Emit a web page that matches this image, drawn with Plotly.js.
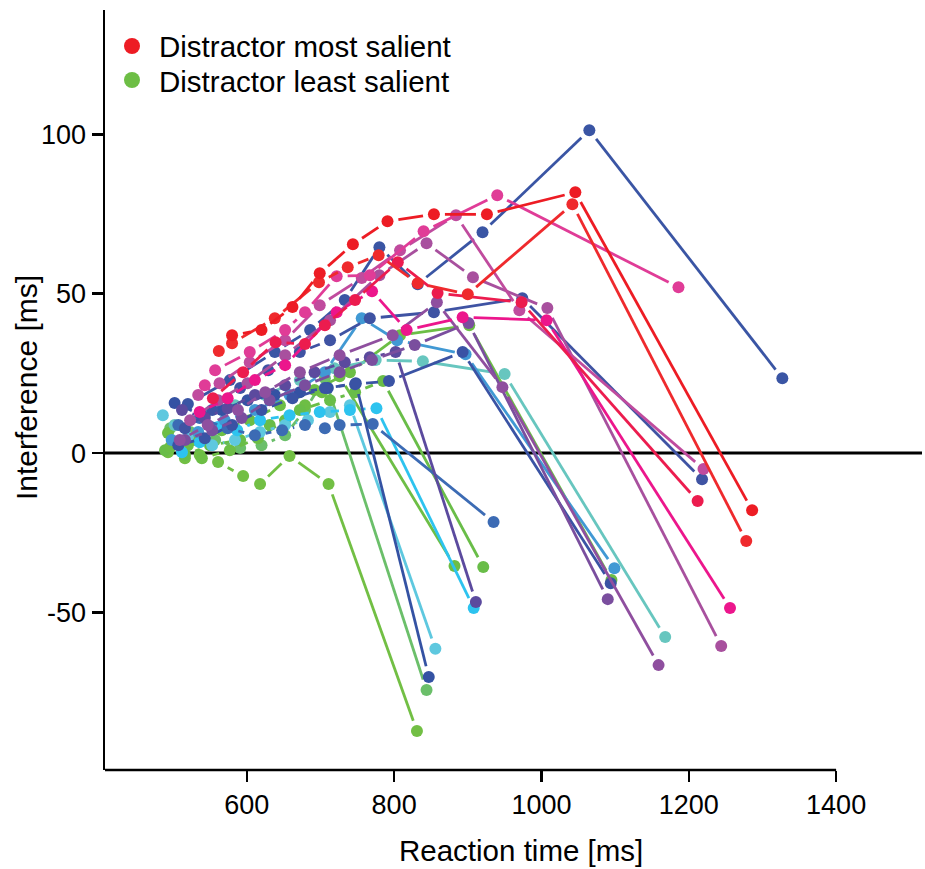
<!DOCTYPE html>
<html><head><meta charset="utf-8">
<script src="https://cdn.plot.ly/plotly-3.0.1.min.js"></script>
<style>html,body{margin:0;padding:0;background:#fff}</style>
</head><body><div id="chart" style="width:925px;height:869px"></div>
<script>
// ---------- DATA ----------
// Reaction time [ms] (x) and Interference [ms] (y) per participant, drawn order: least -> most salient
const rt01 = [493,516,536,561,595,618,658,711,831];
const if01 = [0.3,-1.6,-0.6,-2.8,-7.2,-9.7,-0.9,-9.7,-87.2];
const rt02 = [496,523,557,591,620,652,679,706,844];
const if02 = [7.8,6.6,4.1,1.6,2.5,5.6,13.5,23.5,-74.3];
const rt03 = [493,520,539,577,615,652,679,702,726,882];
const if03 = [6.3,2.5,-1.6,0.9,4.7,10.3,15.0,19.1,24.1,-35.4];
const rt04 = [489,516,550,591,631,672,713,747,785,921];
const if04 = [0.9,-0.6,2.5,4.1,8.8,13.5,16.6,19.1,22.6,-35.7];
const rt05 = [496,530,566,604,645,692,740,808,902,1095];
const if05 = [1.9,4.1,7.2,10.3,15.0,19.8,25.4,37.0,40.1,-39.8];
const rt06 = [502,543,584,625,672,719,775,839,950,1168];
const if06 = [8.8,11.9,15.0,18.2,22.9,26.6,29.2,28.8,24.8,-57.7];
const rt07 = [486,520,553,584,618,652,683,713,740,856];
const if07 = [11.9,5.0,2.5,4.1,6.6,8.8,10.3,12.9,15.0,-61.4];
const rt08 = [512,536,561,587,618,658,699,740,776,908];
const if08 = [0.3,3.4,8.2,7.2,10.3,11.9,12.9,13.5,14.1,-48.6];
const rt09 = [498,534,570,611,658,706,756,804,897,1099];
const if09 = [4.1,6.6,10.3,13.5,18.2,25.4,42.3,35.4,31.0,-36.1];
const rt10 = [507,536,574,611,648,679,706,726,771,935];
const if10 = [8.8,11.0,7.8,5.6,7.2,8.8,7.8,8.8,9.1,-21.6];
const rt11 = [502,539,566,601,638,672,710,748,847];
const if11 = [15.7,11.9,13.5,16.6,18.2,19.1,20.4,21.9,-70.2];
const rt12 = [507,543,580,620,662,706,747,793,893,1094];
const if12 = [2.5,4.7,8.8,13.5,17.2,20.4,21.6,22.6,31.7,-40.8];
const rt13 = [516,553,591,629,672,713,767,854,974,1218];
const if13 = [7.8,13.5,20.4,26.0,31.7,35.4,42.3,44.2,48.6,-8.2];
const rt14 = [520,577,638,686,733,780,832,920,1065,1327];
const if14 = [15.4,22.9,31.7,38.6,48.0,64.6,53.0,69.3,101.3,23.5];
const rt15 = [512,543,574,611,652,692,733,767,802,911];
const if15 = [13.5,11.0,14.1,18.2,21.3,25.4,28.5,30.1,31.7,-46.7];
const rt16 = [516,553,593,631,679,726,770,828,901,1090];
const if16 = [4.1,7.2,11.0,16.6,21.3,25.4,29.2,33.9,40.8,-45.8];
const rt17 = [509,547,588,625,672,726,798,858,947,1159];
const if17 = [4.1,8.8,13.5,19.1,25.4,30.7,37.0,47.3,20.7,-66.5];
const rt18 = [523,561,601,652,713,780,844,907,1008,1244];
const if18 = [10.3,16.6,21.9,30.7,41.7,55.8,65.8,55.2,45.5,-60.5];
const rt19 = [534,563,604,652,699,756,808,884,970,1220];
const if19 = [18.2,21.9,28.5,35.4,46.4,54.9,63.6,74.6,44.8,-5.0];
const rt20 = [543,557,604,652,679,722,767,840,940,1186];
const if20 = [21.3,26.0,31.7,38.6,44.2,55.5,55.8,69.6,80.9,52.0];
const rt21 = [536,574,611,652,722,770,817,893,1007,1256];
const if21 = [12.9,17.2,22.9,27.6,44.2,50.8,38.6,42.6,41.7,-48.6];
const rt22 = [554,595,639,679,706,747,805,859,973,1212];
const if22 = [17.2,25.4,34.8,34.2,40.1,48.0,59.9,50.2,47.3,-15.0];
const rt23 = [562,580,638,698,737,779,832,900,1042,1278];
const if23 = [32.0,34.5,42.3,53.6,58.3,62.1,53.3,49.8,78.1,-27.6];
const rt24 = [580,620,662,699,744,791,854,926,1046,1286];
const if24 = [37.0,38.6,45.8,56.4,65.5,72.7,74.9,74.9,81.8,-17.9];

const legendLabels = ['Distractor most salient', 'Distractor least salient'];
const xTickVals = [600, 800, 1000, 1200, 1400];
const xTickText = ['600', '800', '1000', '1200', '1400'];
const yTickVals = [-50, 0, 50, 100];
const yTickText = ['-50', '0', '50', '100'];
const xTitle = 'Reaction time [ms]';
const yTitle = 'Interference [ms]';

// ---------- STYLE ----------
const seriesColors = ['#72BF44','#6BBF6A','#6DBE45','#69BD48','#6CBE45','#67C6BF','#5EC8DF','#2DC3EF',
  '#4199D4','#3C6BB4','#3452A3','#3A53A4','#3F53A3','#3A55A4','#5B4A9E','#7A4E9E','#8F4F9F',
  '#A8509E','#C04B9E','#E03C97','#EC168C','#EC1C4E','#EF2A2D','#ED1C24'];
const legendColors = ['#ED1C24', '#6DBE45'];
const W = 925, H = 869, M = {l:105, r:3, t:10, b:99};
const XR = [407.5, 1516.6], YR = [-99.4, 139];
const FONT = '"Liberation Sans", Arial, sans-serif';
const GAP = 11;

const allRT = [rt01,rt02,rt03,rt04,rt05,rt06,rt07,rt08,rt09,rt10,rt11,rt12,rt13,rt14,rt15,rt16,rt17,rt18,rt19,rt20,rt21,rt22,rt23,rt24];
const allIF = [if01,if02,if03,if04,if05,if06,if07,if08,if09,if10,if11,if12,if13,if14,if15,if16,if17,if18,if19,if20,if21,if22,if23,if24];

const kx = (W - M.l - M.r) / (XR[1] - XR[0]);
const ky = (H - M.t - M.b) / (YR[1] - YR[0]);
function gapped(xs, ys) {
  const gx = [], gy = [];
  for (let i = 0; i < xs.length - 1; i++) {
    const dx = (xs[i+1] - xs[i]) * kx, dy = (ys[i+1] - ys[i]) * ky;
    const L = Math.hypot(dx, dy);
    if (L <= 2 * GAP) continue;
    const t = GAP / L;
    gx.push(xs[i] + t * (xs[i+1] - xs[i]), xs[i+1] - t * (xs[i+1] - xs[i]), null);
    gy.push(ys[i] + t * (ys[i+1] - ys[i]), ys[i+1] - t * (ys[i+1] - ys[i]), null);
  }
  return {gx, gy};
}

const traces = [];
allRT.forEach((xs, i) => {
  const ys = allIF[i];
  const g = gapped(xs, ys);
  traces.push({x: g.gx, y: g.gy, mode: 'lines', type: 'scatter', connectgaps: false,
    line: {color: seriesColors[i], width: 2.8}, hoverinfo: 'skip', showlegend: false});
  traces.push({x: xs, y: ys, mode: 'markers', type: 'scatter',
    marker: {color: seriesColors[i], size: 12, line: {width: 0}}, showlegend: false});
});

const pw = W - M.l - M.r, ph = H - M.t - M.b;
const px2paperX = p => (p - M.l) / pw;
const px2paperY = p => 1 - (p - M.t) / ph;

const shapes = [
  {type: 'line', xref: 'paper', yref: 'y', x0: 0, x1: 1, y0: 0, y1: 0, layer: 'below',
   line: {color: '#000', width: 3}},
  {type: 'line', xref: 'x', yref: 'paper', x0: XR[0], x1: xTickVals[xTickVals.length-1], y0: 0, y1: 0,
   line: {color: '#000', width: 2.5}},
];
const annotations = [];
legendLabels.forEach((lab, i) => {
  const cy = 46 + i * 34;
  shapes.push({type: 'circle', xref: 'paper', yref: 'paper', xsizemode: 'pixel', ysizemode: 'pixel',
    xanchor: px2paperX(132), yanchor: px2paperY(cy), x0: -8, x1: 8, y0: -8, y1: 8,
    fillcolor: legendColors[i], line: {width: 0}});
  annotations.push({xref: 'paper', yref: 'paper', x: px2paperX(157), y: px2paperY(cy + 1),
    xanchor: 'left', yanchor: 'middle', text: lab, showarrow: false,
    font: {family: FONT, size: 29.5, color: '#000'}});
});
annotations.push({xref: 'paper', yref: 'paper', x: px2paperX(521), y: px2paperY(850),
  xanchor: 'center', yanchor: 'middle', text: xTitle, showarrow: false,
  font: {family: FONT, size: 29.5, color: '#000'}});
annotations.push({xref: 'paper', yref: 'paper', x: px2paperX(26), y: px2paperY(388),
  xanchor: 'center', yanchor: 'middle', text: yTitle, showarrow: false, textangle: -90,
  font: {family: FONT, size: 30, color: '#000'}});

const layout = {
  width: W, height: H, margin: M, paper_bgcolor: '#fff', plot_bgcolor: '#fff',
  showlegend: false,
  font: {family: FONT, size: 27, color: '#000'},
  xaxis: {range: XR, showgrid: false, zeroline: false, showline: false,
    tickmode: 'array', tickvals: xTickVals, ticktext: xTickText,
    ticks: 'outside', ticklen: 11, tickwidth: 2.5, tickcolor: '#000',
    tickfont: {family: FONT, size: 27, color: '#000'}, fixedrange: true},
  yaxis: {range: YR, showgrid: false, zeroline: false, showline: true, linecolor: '#000', linewidth: 2.5,
    tickmode: 'array', tickvals: yTickVals, ticktext: yTickText,
    ticks: 'outside', ticklen: 11, tickwidth: 2.5, tickcolor: '#000',
    tickfont: {family: FONT, size: 27, color: '#000'}, fixedrange: true},
  shapes: shapes, annotations: annotations
};
Plotly.newPlot('chart', traces, layout, {staticPlot: true, displayModeBar: false});
</script>
</body></html>
